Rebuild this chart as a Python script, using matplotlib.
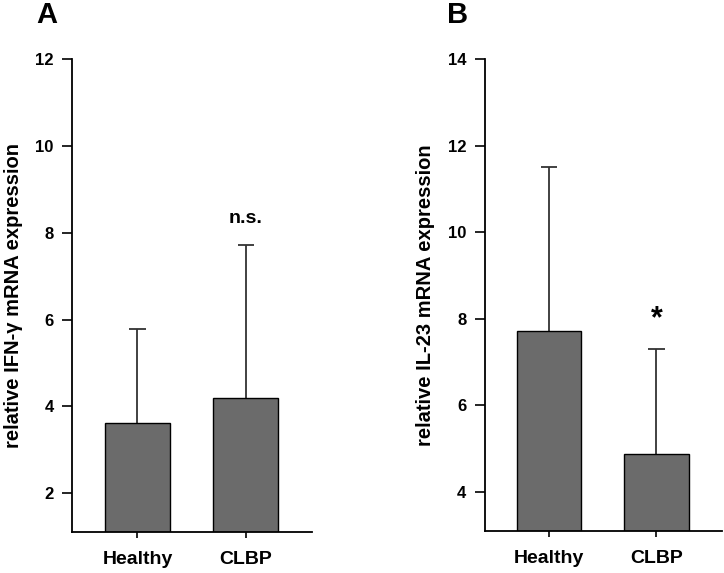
import numpy as np
import matplotlib
matplotlib.use("Agg")
import matplotlib.pyplot as plt

plt.rcParams['font.family'] = ['Liberation Sans', 'DejaVu Sans']
plt.rcParams['font.weight'] = 'bold'

# data
groups = ['Healthy', 'CLBP']
ifn_mean = [3.61, 4.19]
ifn_sd = [2.18, 3.53]
il23_mean = [7.73, 4.88]
il23_sd = [3.78, 2.43]

bar_color = '#6b6b6b'
err_color = '#333333'

fig = plt.figure(figsize=(7.24, 5.73), dpi=100)
axA = fig.add_axes([0.100, 0.0716, 0.331, 0.8254])
axB = fig.add_axes([0.670, 0.0733, 0.327, 0.8237])

def panel(ax, means, sds, ylim, yticks, ylabel):
    x = np.arange(len(groups))
    means = np.array(means)
    sds = np.array(sds)
    ax.bar(x, means, width=0.6, color=bar_color, edgecolor='black', linewidth=1.0, zorder=2)
    # upper error bars only
    ax.vlines(x, means, means + sds, color=err_color, linewidth=1.3, zorder=1)
    ax.hlines(means + sds, x - 0.075, x + 0.075, color=err_color, linewidth=1.3, zorder=1)
    ax.set_xlim(-0.6, 1.61)
    ax.set_ylim(*ylim)
    ax.set_yticks(yticks)
    ax.set_xticks(x)
    ax.set_xticklabels(groups, fontsize=14, fontweight='bold')
    for lab in ax.get_yticklabels():
        lab.set_fontweight('bold')
    ax.tick_params(axis='y', length=7.5, width=1.2, labelsize=12, pad=6)
    ax.tick_params(axis='x', length=4.5, width=1.2, pad=9)
    ax.spines['top'].set_visible(False)
    ax.spines['right'].set_visible(False)
    ax.spines['left'].set_linewidth(1.3)
    ax.spines['bottom'].set_linewidth(1.3)
    ax.set_ylabel(ylabel, fontsize=14.5, fontweight='bold', labelpad=9)

panel(axA, ifn_mean, ifn_sd, (1.11, 12), [2, 4, 6, 8, 10, 12], 'relative IFN-γ mRNA expression')
panel(axB, il23_mean, il23_sd, (3.1, 14), [4, 6, 8, 10, 12, 14], 'relative IL-23 mRNA expression')

axA.text(1, 8.33, 'n.s.', ha='center', va='center', fontsize=14, fontweight='bold')
axB.text(1, 8.0, '*', ha='center', va='center', fontsize=22, fontweight='bold')

fig.text(0.050, 0.998, 'A', fontsize=21, fontweight='bold', va='top', ha='left')
fig.text(0.617, 0.998, 'B', fontsize=21, fontweight='bold', va='top', ha='left')

fig.savefig('out.png', dpi=100)
